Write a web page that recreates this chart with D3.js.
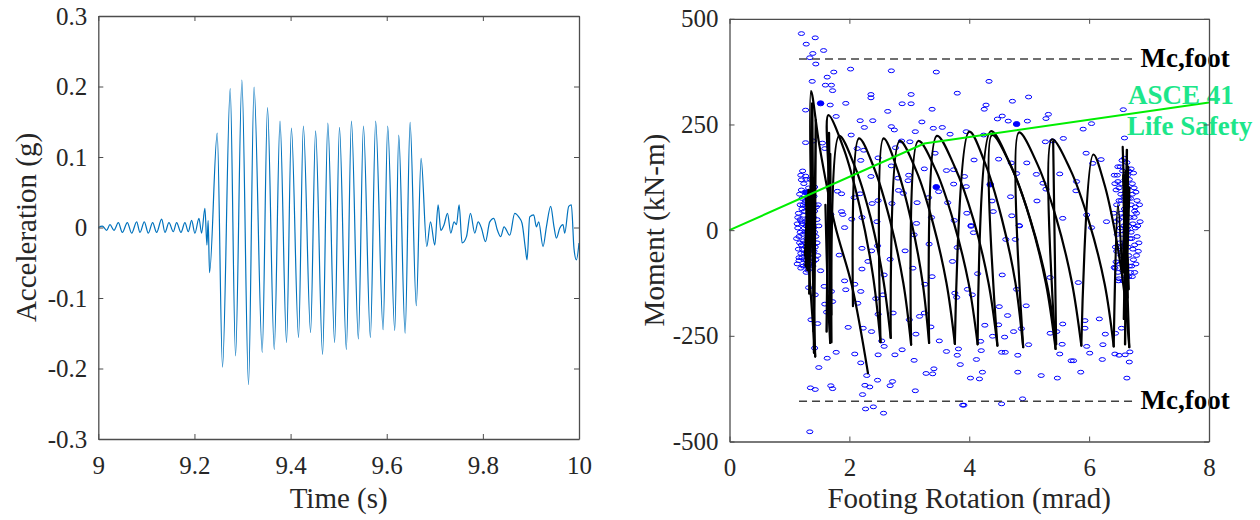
<!DOCTYPE html>
<html>
<head>
<meta charset="utf-8">
<script src="https://cdn.jsdelivr.net/npm/d3@7"></script>
<style>
  body { margin: 0; background: #fff; }
  svg { display: block; font-family: "Liberation Serif", "Times New Roman", serif; }
</style>
</head>
<body>
<svg id="chart" width="1260" height="520"></svg>
<script>
// ---- left panel : acceleration record ----
const timeTicks = [9, 9.2, 9.4, 9.6, 9.8, 10];
const timeTickLabels = ["9", "9.2", "9.4", "9.6", "9.8", "10"];
const accTicks = [-0.3, -0.2, -0.1, 0, 0.1, 0.2, 0.3];
const accTickLabels = ["-0.3", "-0.2", "-0.1", "0", "0.1", "0.2", "0.3"];

// time (s), acceleration (g) at the turning points of the trace
const accTime = [
  9.0000, 9.0084, 9.0174, 9.0243, 9.0326, 9.0417, 9.0500, 9.0604, 9.0694, 9.0798,
  9.0867, 9.0957, 9.1040, 9.1130, 9.1213, 9.1318, 9.1387, 9.1470, 9.1560, 9.1629,
  9.1720, 9.1802, 9.1872, 9.1941, 9.2010, 9.2094, 9.2149, 9.2218, 9.2260, 9.2285,
  9.2314, 9.2474, 9.2584, 9.2744, 9.2855, 9.2987, 9.3125, 9.3240, 9.3410, 9.3520,
  9.3660, 9.3780, 9.3916, 9.4017, 9.4166, 9.4266, 9.4416, 9.4520, 9.4666, 9.4775,
  9.4916, 9.5017, 9.5160, 9.5266, 9.5410, 9.5516, 9.5660, 9.5770, 9.5925, 9.6020,
  9.6167, 9.6250, 9.6383, 9.6486, 9.6615, 9.6715, 9.6833, 9.6911, 9.7000, 9.7069,
  9.7125, 9.7193, 9.7264, 9.7333, 9.7401, 9.7451, 9.7506, 9.7568, 9.7659, 9.7742,
  9.7832, 9.7901, 9.7971, 9.8054, 9.8143, 9.8227, 9.8303, 9.8372, 9.8441, 9.8559,
  9.8663, 9.8746, 9.8815, 9.8885, 9.8919, 9.8975, 9.9058, 9.9114, 9.9162, 9.9252,
  9.9322, 9.9411, 9.9480, 9.9530, 9.9599, 9.9667, 9.9703, 9.9786, 9.9841, 9.9896,
  9.9946, 10.000
];
const accValue = [
  0.000, 0.002, -0.004, 0.004, -0.004, 0.007, -0.007, 0.007, -0.008, 0.008,
  -0.007, 0.008, -0.008, 0.007, -0.007, 0.012, -0.007, 0.007, -0.006, 0.007,
  -0.007, 0.007, -0.006, 0.010, -0.008, 0.013, -0.008, 0.027, -0.025, 0.010,
  -0.064, 0.134, -0.198, 0.197, -0.182, 0.209, -0.223, 0.199, -0.177, 0.170,
  -0.173, 0.151, -0.163, 0.141, -0.156, 0.144, -0.149, 0.137, -0.180, 0.148,
  -0.163, 0.142, -0.173, 0.151, -0.158, 0.144, -0.156, 0.151, -0.145, 0.144,
  -0.146, 0.131, -0.150, 0.149, -0.111, 0.098, -0.027, 0.008, -0.025, 0.032,
  -0.004, 0.004, 0.020, -0.008, 0.008, 0.004, 0.032, -0.022, -0.013, 0.020,
  -0.008, 0.008, -0.001, -0.020, 0.008, 0.013, -0.004, -0.013, 0.001, -0.011,
  0.020, 0.015, 0.006, -0.030, -0.046, 0.015, 0.018, 0.001, 0.008, -0.027,
  0.001, 0.030, 0.001, -0.015, -0.001, 0.004, -0.008, 0.030, 0.032, -0.030,
  -0.046, -0.022
];

// ---- right panel : footing moment vs rotation ----
const rotTicks = [0, 2, 4, 6, 8];
const momentTicks = [-500, -250, 0, 250, 500];

// black hysteresis traces [rotation mrad, moment kN-m]
const loopSpike = [[1.30,-40],[1.43,-299],[1.36,329],[1.50,200],[1.76,12],[2.04,-130],[2.31,-338]];
const loopA = [[1.60,60],[1.64,-150],[1.68,-267],[1.66,100],[1.65,272],[1.91,191],[2.17,57],[2.39,-104],
  [2.52,-265],[2.57,217],[2.80,144],[3.03,23],[3.22,-122],[3.33,-267],[3.46,223],[3.76,149],[4.07,25],
  [4.32,-124],[4.47,-273],[4.38,225],[4.70,150],[5.02,25],[5.30,-130],[5.45,-270],[5.40,210]];
const loopB = [[1.70,-200],[1.83,223],[2.09,151],[2.35,32],[2.56,-112],[2.69,-255],[2.84,211],[3.12,139],
  [3.39,19],[3.62,-125],[3.76,-269],[4.00,233],[4.27,156],[4.54,29],[4.77,-124],[4.90,-277],[4.83,231],
  [5.14,155],[5.45,29],[5.71,-122],[5.87,-273],[6.07,179],[6.25,111],[6.43,-3],[6.58,-140],[6.67,-277],
  [6.56,197],[6.62,-60]];
const loopC = [[2.06,-180],[2.16,217],[2.42,144],[2.68,22],[2.90,-125],[3.03,-271],[3.15,211],[3.45,139],
  [3.74,19],[3.99,-126],[4.14,-270],[4.36,234],[4.68,157],[5.01,28],[5.28,-127],[5.44,-281],[5.38,215],
  [5.69,142],[6.00,19],[6.26,-128],[6.41,-275],[6.48,60],[6.55,-100]];
const spikeLeftA = [[1.33,-150],[1.38,300],[1.41,-290],[1.44,260],[1.40,-240]];
const spikeLeftB = [[1.62,-240],[1.66,230],[1.70,-265],[1.68,180]];
const coreLeft = [[1.29,-90],[1.31,85],[1.27,-70],[1.33,90],[1.30,-95],[1.28,75],[1.32,-80],[1.30,70],
  [1.26,-60],[1.34,60],[1.29,-75],[1.31,80],[1.28,-50],[1.33,50],[1.27,-85],[1.32,95],[1.30,-60]];
const coreRight = [[6.60,-270],[6.63,190],[6.58,-210],[6.65,150],[6.61,-180],[6.57,130],[6.64,-160],[6.60,110],
  [6.66,-140],[6.59,90],[6.63,-120],[6.61,140],[6.56,-100],[6.67,100],[6.62,-150],[6.60,120],[6.64,-90]];
const smoothLoops = [loopSpike, loopA, loopB, loopC];
const sharpLoops = [spikeLeftA, spikeLeftB, coreLeft, coreRight];

// blue open markers [rotation, moment]
const markerPts = [
  [1.20,465],[1.43,455],[1.28,440],[1.39,418],[1.57,425],[1.34,408],[1.44,393],[2.02,381],[2.70,377],[3.45,374],
  [1.63,362],[1.74,374],[1.38,352],[1.60,343],[1.70,343],[1.72,330],[2.36,321],[2.36,313],[3.03,321],[3.80,324],
  [1.68,296],[1.94,300],[2.88,299],[3.03,299],[3.38,286],[2.64,281],[1.27,284],[1.78,269],[2.18,259],[2.39,259],
  [2.25,243],[3.21,256],[2.70,245],[2.75,237],[3.40,241],[3.55,243],[3.10,233],[3.68,227],[2.03,225],[1.27,207],
  [1.40,211],[1.55,206],[1.59,193],[2.13,193],[2.24,189],[2.87,211],[3.01,209],[2.77,195],[2.19,165],[2.48,171],
  [3.43,182],[3.25,145],[3.62,141],[3.74,143],[2.36,127],[2.70,152],[2.81,123],[2.99,130],[2.98,117],[2.82,94],
  [2.90,87],[3.49,91],[3.74,109],[1.20,119],[1.27,128],[1.42,102],[1.87,86],[1.80,92],[2.08,77],[2.18,86],
  [2.48,70],[2.38,63],[2.71,63],[3.13,65],[3.32,77],[3.64,65],[1.87,44],[1.89,37],[1.69,37],[2.04,26],
  [2.21,30],[2.46,20],[3.12,16],[3.37,30],[3.75,23],
  [4.33,352],[4.99,315],[4.72,305],[4.28,296],[4.25,286],[5.32,274],[5.28,264],[4.55,270],[4.47,263],[4.65,258],
  [4.97,258],[6.04,252],[5.90,239],[6.57,285],[3.95,233],[4.24,225],[5.27,209],[5.39,211],[5.57,217],[6.59,218],
  [4.08,166],[4.49,168],[4.70,159],[4.96,159],[5.95,182],[6.06,158],[6.20,167],[4.79,134],[5.12,132],[5.51,133],
  [3.92,127],[5.23,111],[5.79,115],[5.28,97],[3.95,103],[5.78,93],[4.38,69],[4.69,79],[5.13,69],[3.96,40],
  [4.40,44],[4.71,34],[5.56,28],[4.03,11],[4.83,11],[5.96,36],[6.29,20],
  [1.92,6],[2.21,-43],[2.37,-49],[2.47,-37],[2.68,-69],[2.93,-49],[3.08,-11],[3.33,-33],[3.80,-41],[1.16,-72],
  [1.28,-81],[1.39,-85],[1.52,-96],[1.83,-59],[2.21,-92],[2.31,-74],[2.58,-106],[3.06,-90],[3.38,-110],[3.26,-128],
  [3.72,-74],[1.32,-136],[1.43,-153],[1.58,-133],[1.70,-145],[1.92,-120],[1.94,-141],[2.09,-128],[2.19,-145],[2.44,-162],
  [2.56,-153],[1.59,-175],[1.72,-169],[2.14,-173],[2.73,-196],[2.48,-199],[3.25,-196],[3.17,-204],[3.76,-149],[3.79,-159],
  [1.62,-194],[1.36,-212],[1.47,-221],[3.00,-212],[1.98,-230],[2.23,-232],[2.37,-240],[3.11,-246],[3.36,-229],[2.54,-262],
  [3.50,-262],[2.58,-275],[1.42,-279],[1.78,-289],[2.09,-293],[2.48,-295],[2.76,-295],[2.88,-283],[3.62,-287],[3.82,-281],
  [3.80,-296],[1.63,-303],[3.08,-308],[1.49,-325],[2.19,-314],[3.41,-328],[3.28,-339],[3.39,-340],[3.85,-318],[2.29,-344],
  [2.47,-355],[2.72,-358],[2.26,-367],[2.34,-371],[2.68,-368],[1.35,-373],[1.43,-377],[1.69,-368],[1.72,-375],[3.10,-380],
  [2.22,-389],[2.27,-423],[2.40,-418],[2.57,-433],[3.89,-414],[1.34,-477],
  [4.03,9],[4.07,-6],[4.61,-22],[4.77,-22],[4.84,10],[6.04,6],[4.14,-103],[4.55,-106],[5.35,-112],[5.82,-124],
  [6.42,-88],[3.97,-140],[4.05,-153],[4.79,-140],[4.95,-179],[4.50,-181],[4.64,-202],[5.93,-214],[6.17,-210],[4.26,-225],
  [4.49,-224],[4.87,-233],[4.74,-240],[5.35,-244],[5.56,-222],[5.46,-240],[5.93,-232],[6.27,-246],[6.44,-244],[6.54,-232],
  [4.19,-263],[4.39,-251],[4.59,-253],[4.99,-271],[5.55,-270],[5.96,-275],[6.23,-271],[6.43,-293],[6.50,-296],[6.60,-295],
  [6.68,-288],[4.20,-285],[4.54,-289],[4.60,-289],[4.81,-296],[5.51,-293],[5.70,-309],[5.74,-309],[6.01,-291],[6.22,-306],
  [4.12,-306],[6.67,-312],[4.22,-336],[4.81,-336],[5.86,-336],[4.02,-350],[4.17,-352],[5.20,-344],[5.47,-350],[6.63,-350],
  [4.89,-399],[4.54,-411],[3.91,-414]
];
// dense marker clouds at both rotation limits
const clusterLeftPts = [
  [1.15,40],[1.18,60],[1.20,20],[1.22,-10],[1.17,-30],[1.14,5],[1.19,-55],[1.24,-70],[1.21,75],[1.25,45],
  [1.27,-40],[1.23,-85],[1.28,10],[1.26,65],[1.30,-60],[1.32,30],[1.29,-20],[1.34,55],[1.36,-35],[1.38,15],
  [1.40,-75],[1.37,70],[1.42,45],[1.44,-15],[1.46,25],[1.41,-50],[1.16,-65],[1.13,-80],[1.20,95],[1.24,110],
  [1.31,-95],[1.33,85],[1.47,-60],[1.48,60],[1.22,-45],[1.18,25],[1.26,-5],[1.35,-80],[1.39,100],[1.28,120],
  [1.14,30],[1.16,-15],[1.17,85],[1.19,-90],[1.21,50],[1.22,15],[1.23,-25],[1.24,35],[1.25,-55],[1.26,90],
  [1.27,20],[1.28,-70],[1.29,55],[1.30,-5],[1.31,75],[1.32,-40],[1.33,10],[1.34,-65],[1.35,40],[1.36,-10],
  [1.37,-55],[1.38,50],[1.39,-25],[1.40,30],[1.41,80],[1.42,-5],[1.43,-40],[1.45,55],[1.15,-45],[1.18,-5],
  [1.20,-35],[1.21,-65],[1.23,60],[1.25,5],[1.26,-30],[1.27,70],[1.29,-85],[1.30,25],[1.31,-45],[1.32,100],
  [1.33,-20],[1.34,15],[1.36,90],[1.37,-90],[1.38,-10],[1.39,65],[1.40,5],[1.44,-70],[1.12,-20],[1.13,15],
  [1.19,130],[1.22,140],[1.28,-100],[1.35,120],[1.46,-30],[1.49,10]
];
const clusterRightPts = [
  [6.42,130],[6.48,150],[6.55,165],[6.60,120],[6.66,140],[6.72,110],[6.78,90],[6.84,60],[6.45,95],[6.50,70],
  [6.53,40],[6.58,80],[6.63,55],[6.69,75],[6.75,30],[6.81,10],[6.44,20],[6.47,-10],[6.52,5],[6.57,-30],
  [6.62,15],[6.68,-20],[6.73,-45],[6.79,-60],[6.83,-30],[6.46,-50],[6.51,-80],[6.56,-95],[6.61,-70],[6.66,-110],
  [6.71,-85],[6.76,-100],[6.49,-120],[6.54,110],[6.64,100],[6.70,-5],[6.59,170],[6.77,55],[6.43,-90],[6.65,-40],
  [6.74,135],[6.80,-15],
  [6.41,40],[6.43,110],[6.44,-40],[6.46,60],[6.47,130],[6.48,-100],[6.49,25],[6.50,100],[6.51,-30],[6.52,150],
  [6.53,-60],[6.54,70],[6.55,-10],[6.56,140],[6.57,30],[6.58,-80],[6.59,50],[6.60,-40],[6.61,90],[6.62,-110],
  [6.63,160],[6.64,0],[6.65,75],[6.66,-60],[6.67,120],[6.68,30],[6.69,-100],[6.70,60],[6.71,-20],[6.72,85],
  [6.73,15],[6.74,-70],[6.75,100],[6.76,-35],[6.77,5],[6.78,-80],[6.79,40],[6.80,70],[6.82,-50],[6.85,20],
  [6.45,-75],[6.50,-115],[6.53,85],[6.57,-120],[6.61,-5],[6.64,130],[6.67,-85],[6.70,145],[6.72,-110],[6.76,45],
  [6.58,10],[6.62,35],[6.66,10],[6.54,-40],[6.48,115]
];
const filledPts = [[1.52,300],[4.79,251],[3.45,102],[1.28,89],[4.35,108]];

// ASCE 41 life safety curve and Mc,foot capacity
const lifeSafetyRot = [0, 3.25, 3.6, 8];
const lifeSafetyM = [0, 205, 212, 302];
const mcFoot = [405, -405];
const mcFootRot = [1.16, 6.79];

const svg = d3.select("#chart");
const axisCol = "#4d4d4d";
const textCol = "#262626";

function frame(g, x, y, xt, xl, yt, yl, xr, yr) {
  const fmt = (ticks, labels) => d => labels[ticks.indexOf(d)];
  g.append("g").attr("transform", `translate(0,${yr[0]})`)
    .call(d3.axisBottom(x).tickValues(xt).tickFormat(fmt(xt, xl)).tickSize(-5).tickSizeOuter(0).tickPadding(17));
  g.append("g").attr("transform", `translate(0,${yr[1]})`)
    .call(d3.axisTop(x).tickValues(xt).tickFormat("").tickSize(-5).tickSizeOuter(0));
  g.append("g").attr("transform", `translate(${xr[0]},0)`)
    .call(d3.axisLeft(y).tickValues(yt).tickFormat(fmt(yt, yl)).tickSize(-5).tickSizeOuter(0).tickPadding(11));
  g.append("g").attr("transform", `translate(${xr[1]},0)`)
    .call(d3.axisRight(y).tickValues(yt).tickFormat("").tickSize(-5).tickSizeOuter(0));
  g.selectAll(".domain").attr("stroke", axisCol).attr("stroke-width", 1.3);
  g.selectAll(".tick line").attr("stroke", axisCol).attr("stroke-width", 1);
  g.selectAll(".tick text").attr("fill", textCol)
    .style("font-family", "Liberation Serif").style("font-size", "25px");
}

// ---- left panel ----
const xr1 = [98.3, 579], yr1 = [439, 16];
const x1 = d3.scaleLinear().domain([9, 10]).range(xr1);
const y1 = d3.scaleLinear().domain([-0.3, 0.3]).range(yr1);
const g1 = svg.append("g");

const accData = accTime.map((t, i) => [t, accValue[i]]);
g1.append("path")
  .datum(accData)
  .attr("fill", "none")
  .attr("stroke", "#0072bd")
  .attr("stroke-width", 1.2)
  .attr("d", d3.line().x(d => x1(d[0])).y(d => y1(d[1])).curve(d3.curveMonotoneX));

frame(g1, x1, y1, timeTicks, timeTickLabels, accTicks, accTickLabels, xr1, yr1);

g1.append("text").attr("x", (xr1[0] + xr1[1]) / 2).attr("y", 508)
  .attr("text-anchor", "middle").attr("fill", textCol).style("font-size", "29px").text("Time (s)");
g1.append("text").attr("transform", `translate(36,${(yr1[0] + yr1[1]) / 2}) rotate(-90)`)
  .attr("text-anchor", "middle").attr("fill", textCol).style("font-size", "29px").text("Acceleration (g)");

// ---- right panel ----
const xr2 = [729.5, 1209], yr2 = [441.5, 18.8];
const x2 = d3.scaleLinear().domain([0, 8]).range(xr2);
const y2 = d3.scaleLinear().domain([-500, 500]).range(yr2);
const g2 = svg.append("g");

// blue markers
g2.append("g").selectAll("ellipse")
  .data(markerPts.concat(clusterLeftPts, clusterRightPts))
  .enter()
  .append("ellipse")
  .attr("cx", d => x2(d[0]))
  .attr("cy", d => y2(d[1]))
  .attr("rx", 3.1).attr("ry", 1.9)
  .attr("fill", "none").attr("stroke", "#0000ff").attr("stroke-width", 1);
g2.append("g").selectAll("ellipse")
  .data(filledPts)
  .enter()
  .append("ellipse")
  .attr("cx", d => x2(d[0]))
  .attr("cy", d => y2(d[1]))
  .attr("rx", 3.3).attr("ry", 2.5)
  .attr("fill", "#0000ff").attr("stroke", "#0000ff");

// black hysteresis: smooth between troughs, sharp at each trough
const smoothLine = d3.line().x(d => x2(d[0])).y(d => y2(d[1])).curve(d3.curveCatmullRom.alpha(0.5));
const sharpLine = d3.line().x(d => x2(d[0])).y(d => y2(d[1]));

function splitAtTroughs(loop) {
  const out = [];
  let cur = [loop[0]];
  for (let i = 1; i < loop.length; i++) {
    cur.push(loop[i]);
    const isTrough = i < loop.length - 1 && loop[i][1] < loop[i - 1][1] && loop[i][1] < loop[i + 1][1];
    if (isTrough) {
      out.push(cur);
      cur = [loop[i]];
    }
  }
  if (cur.length > 1) out.push(cur);
  return out;
}

const loopG = g2.append("g")
  .attr("fill", "none").attr("stroke", "#000").attr("stroke-linejoin", "round").attr("stroke-linecap", "round");
smoothLoops.forEach(loop => {
  loopG.selectAll(null)
    .data(splitAtTroughs(loop))
    .enter()
    .append("path")
    .attr("d", smoothLine)
    .attr("stroke-width", 2.2);
});
loopG.selectAll(null)
  .data(sharpLoops)
  .enter()
  .append("path")
  .attr("d", sharpLine)
  .attr("stroke-width", 2.4);

// Mc,foot dashed lines
mcFoot.forEach(m => {
  g2.append("line")
    .attr("x1", x2(mcFootRot[0])).attr("x2", x2(mcFootRot[1]))
    .attr("y1", y2(m)).attr("y2", y2(m))
    .attr("stroke", "#404040").attr("stroke-width", 1.5).attr("stroke-dasharray", "8,5");
  g2.append("text")
    .attr("x", x2(mcFootRot[1]) + 4).attr("y", y2(m) + 8)
    .attr("fill", "#000").style("font-size", "27px").style("font-weight", "bold")
    .text("Mc,foot");
});

// ASCE 41 life safety
g2.append("path")
  .datum(lifeSafetyRot.map((r, i) => [r, lifeSafetyM[i]]))
  .attr("d", sharpLine)
  .attr("fill", "none").attr("stroke", "#00ee00").attr("stroke-width", 2);
g2.append("text").attr("x", 1128).attr("y", 104)
  .attr("fill", "#1de68a").style("font-size", "27px").style("font-weight", "bold").text("ASCE 41");
g2.append("text").attr("x", 1127).attr("y", 135)
  .attr("fill", "#1de68a").style("font-size", "27px").style("font-weight", "bold").text("Life Safety");

frame(g2, x2, y2, rotTicks, rotTicks.map(String), momentTicks, momentTicks.map(String), xr2, yr2);

g2.append("text").attr("x", (xr2[0] + xr2[1]) / 2).attr("y", 508)
  .attr("text-anchor", "middle").attr("fill", textCol).style("font-size", "29px").text("Footing Rotation (mrad)");
g2.append("text").attr("transform", `translate(664,${(yr2[0] + yr2[1]) / 2}) rotate(-90)`)
  .attr("text-anchor", "middle").attr("fill", textCol).style("font-size", "29px").text("Moment (kN-m)");
</script>
</body>
</html>
